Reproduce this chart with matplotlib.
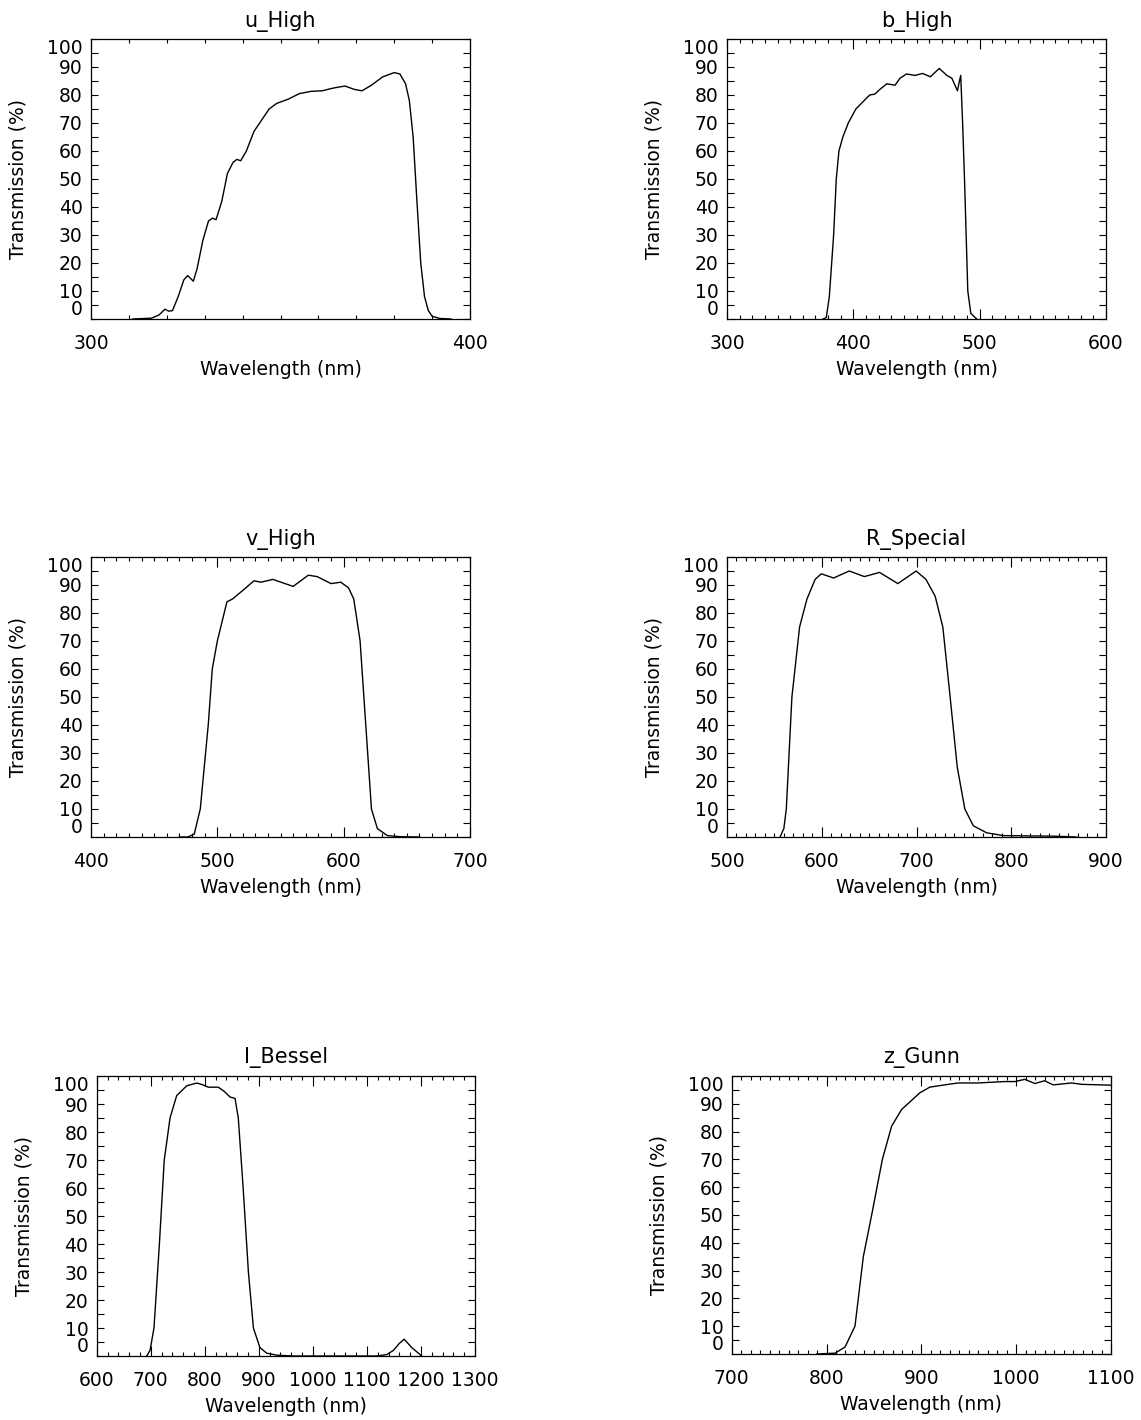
import matplotlib
matplotlib.use("Agg")
import matplotlib.pyplot as plt
from matplotlib.ticker import MultipleLocator

plt.rcParams['font.family'] = ['DejaVu Sans']

titles = ["u_High", "b_High", "v_High", "R_Special", "I_Bessel", "z_Gunn"]

u_wl = [311, 316, 318, 319.5, 320.5, 321.5, 323, 324.5, 325.5, 327, 328, 329.5, 331, 332, 333, 334.5, 336, 337.5, 338.5,
        339.5, 341, 343, 345, 347, 349, 352, 355, 358, 361, 364, 367, 369.5, 371.5, 374, 377, 380, 381.5, 383, 384, 385,
        386, 387, 388, 389, 390, 392, 395]
u_tr = [0, 0.3, 1.5, 3.5, 2.8, 3, 8, 14, 15.5, 13.5, 18, 28, 35, 36, 35.5, 42, 52, 56, 57,
        56.5, 60, 67, 71, 75, 77, 78.5, 80.5, 81.3, 81.5, 82.5, 83.2, 82, 81.5, 83.5, 86.5, 88, 87.5, 84, 78, 65,
        42, 20, 8, 3, 1, 0.2, 0]

b_wl = [376, 378.6, 381, 384.4, 386.5, 388.6, 391.7, 396, 402, 410.7, 413, 417, 421, 426.5, 433, 437, 442, 449, 454.8,
        461, 468, 474, 478, 482.4, 484, 485, 486.5, 488, 490.6, 493, 497.7]
b_tr = [0, 0.5, 8, 30, 50, 60, 65, 70, 75, 79, 80, 80.3, 82, 84, 83.5, 86, 87.5, 87, 87.7,
        86.5, 89.5, 87, 86, 81.5, 85, 87, 70, 50, 10, 2, 0]

v_wl = [470, 476.5, 481.7, 486.5, 492.8, 496, 500, 507.6, 512, 520, 529, 534.5, 544, 560, 572, 579, 590, 597.7,
        603.8, 608, 613, 617.5, 622, 626.7, 634.6, 645, 660]
v_tr = [0, 0, 1, 10, 40, 60, 70, 84, 85, 88, 91.5, 91, 92, 89.5, 93.5, 93, 90.5, 91,
        89, 85, 70, 40, 10, 3, 0.5, 0.1, 0]

r_wl = [556, 560, 562.6, 568.5, 576.6, 584.4, 593, 599.5, 612.5, 629, 645, 661, 680.3, 699.6, 710, 719.7, 727.8,
        735.5, 743, 751, 760, 774, 791.7, 844, 869]
r_tr = [0, 3, 10, 50, 75, 85, 92, 94, 92.5, 95, 93, 94.5, 90.5, 95, 92, 86, 75,
        50, 25, 10, 4, 1.5, 0.5, 0.3, 0]

i_wl = [692.5, 698.7, 706, 716, 725, 735.7, 748, 766.6, 785, 794, 806.7, 825, 836, 846.7, 856, 862, 871, 880.7,
        890, 902, 914.6, 933, 964, 1118, 1136.7, 1149, 1160, 1169, 1176, 1183, 1198.4, 1201]
i_tr = [0, 2, 10, 40, 70, 85, 93, 96.5, 97.5, 97, 96, 96, 94.5, 92.5, 92, 85, 60, 30,
        10, 3, 1, 0.3, 0, 0, 0.5, 2, 4.5, 6, 4.5, 3, 0.5, 0]

z_wl = [789.6, 809, 819.5, 830, 838.8, 847.6, 858.9, 868.7, 879.3, 898.6, 909, 928.5, 939, 960, 988, 998.8, 1009,
        1019.8, 1030, 1039, 1058.5, 1069, 1100]
z_tr = [0, 0.3, 2.5, 10, 35, 50, 70, 82, 88, 94, 96, 97, 97.5, 97.5, 98, 98, 98.8,
        97.3, 98.3, 96.8, 97.5, 97, 96.7]

series = [(u_wl, u_tr), (b_wl, b_tr), (v_wl, v_tr), (r_wl, r_tr), (i_wl, i_tr), (z_wl, z_tr)]
xlims = [(300, 400), (300, 600), (400, 700), (500, 900), (600, 1300), (700, 1100)]
xmajor = [100, 100, 100, 100, 100, 100]
xminor = [10, 10, 10, 10, 20, 10]

W, H = 1141, 1420
boxes = [(91, 39, 470, 319), (727, 39, 1106, 319),
         (91, 557, 470, 837), (727, 557, 1106, 837),
         (96.7, 1076, 475, 1356), (731.7, 1076, 1111, 1354)]

fig = plt.figure(figsize=(W / 100, H / 100), dpi=100)
fs = 13.5
for i in range(6):
    l, t, r, b = boxes[i]
    ax = fig.add_axes([l / W, 1 - b / H, (r - l) / W, (b - t) / H])
    x, y = series[i]
    ax.plot(x, y, color='black', lw=1.0)
    ax.set_xlim(*xlims[i])
    ax.set_ylim(0, 100)
    ax.xaxis.set_major_locator(MultipleLocator(xmajor[i]))
    ax.xaxis.set_minor_locator(MultipleLocator(xminor[i]))
    ax.yaxis.set_major_locator(MultipleLocator(10))
    ax.yaxis.set_minor_locator(MultipleLocator(5))
    ax.tick_params(which='both', direction='in', top=True, right=True, labelsize=fs, width=0.8)
    ax.tick_params(axis='x', which='major', length=7, pad=11)
    ax.tick_params(axis='x', which='minor', length=3)
    ax.tick_params(axis='y', which='both', length=5, pad=6)
    for sp in ax.spines.values():
        sp.set_linewidth(0.9)
    ax.set_title(titles[i], fontsize=15, pad=9)
    ax.set_xlabel("Wavelength (nm)", fontsize=fs, labelpad=5)
    ax.set_ylabel("Transmission (%)", fontsize=fs, labelpad=14)
    fig.canvas.draw()
    for lab in ax.get_yticklabels():
        if lab.get_text() == '0':
            lab.set_va('bottom')
        elif lab.get_text() == '100':
            lab.set_va('top')

fig.savefig("out.png", dpi=100)
